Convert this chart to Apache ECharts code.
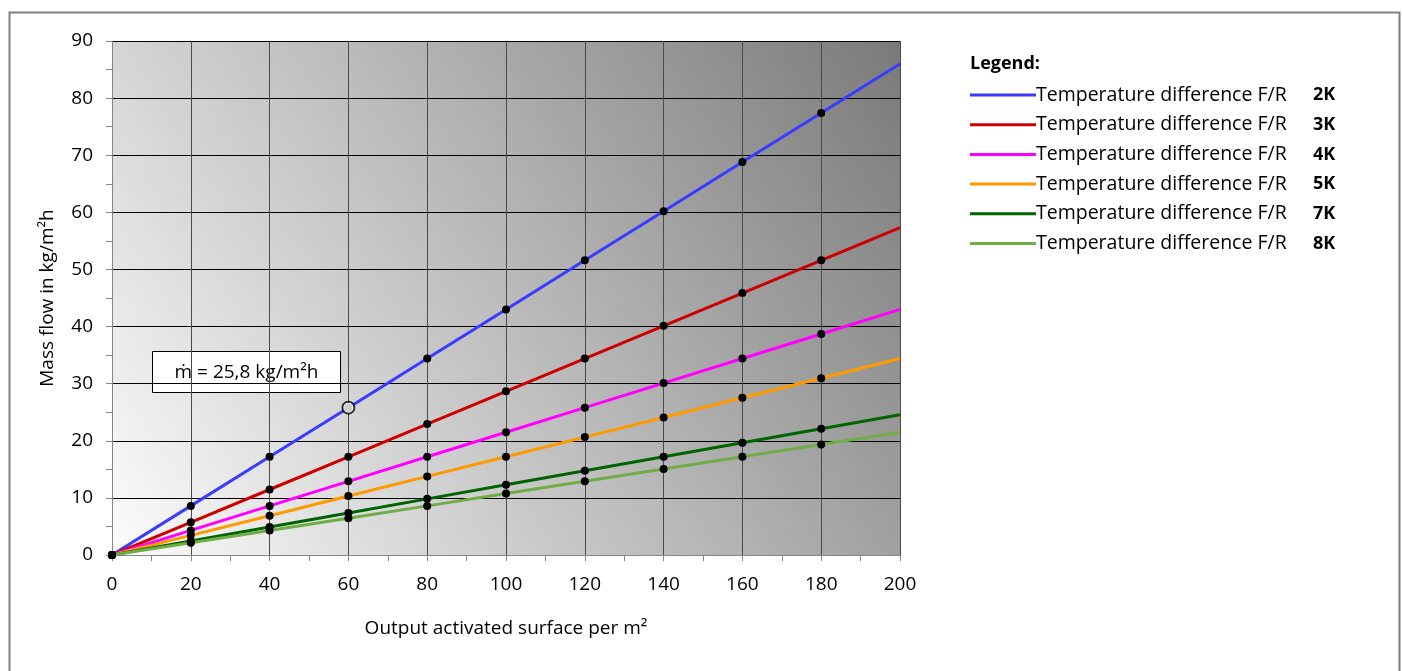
<!DOCTYPE html>
<html>
<head>
<meta charset="utf-8">
<script src="https://cdn.jsdelivr.net/npm/echarts@6/dist/echarts.min.js"></script>
<style>
  html, body { margin: 0; padding: 0; background: #fff; }
  #chart { width: 1402px; height: 671px; }
</style>
</head>
<body>
<div id="chart"></div>
<script>
// output per m2 (x) and mass flow in kg/m2h per temperature difference
const surface = [0, 20, 40, 60, 80, 100, 120, 140, 160, 180, 200];
const flow2K = [0, 8.6, 17.2, 25.8, 34.4, 43.0, 51.6, 60.2, 68.8, 77.4, 86.0];
const flow3K = [0, 5.73, 11.47, 17.2, 22.93, 28.67, 34.4, 40.13, 45.87, 51.6, 57.33];
const flow4K = [0, 4.3, 8.6, 12.9, 17.2, 21.5, 25.8, 30.1, 34.4, 38.7, 43.0];
const flow5K = [0, 3.44, 6.88, 10.32, 13.76, 17.2, 20.64, 24.08, 27.52, 30.96, 34.4];
const flow7K = [0, 2.46, 4.91, 7.37, 9.83, 12.29, 14.74, 17.2, 19.66, 22.11, 24.57];
const flow8K = [0, 2.15, 4.3, 6.45, 8.6, 10.75, 12.9, 15.05, 17.2, 19.35, 21.5];
const seriesNames = ['2K', '3K', '4K', '5K', '7K', '8K'];
const seriesColors = ['#3b3bff', '#cc0000', '#ff00ff', '#ff9900', '#006400', '#70ad47'];
const highlightPoint = [60, 25.8];
const highlightText = 'ṁ = 25,8 kg/m²h';

const font = '"Open Sans", "Liberation Sans", sans-serif';
const chart = echarts.init(document.getElementById('chart'));

function makeLine(name, values, color) {
  return {
    name: name,
    type: 'line',
    data: values.map((v, i) => {
      let item = { value: [surface[i], v] };
      if (i === values.length - 1) item.symbol = 'none';
      return item;
    }),
    symbol: 'circle',
    symbolSize: 8,
    itemStyle: { color: '#000' },
    lineStyle: { color: color, width: 3 },
    color: color,
    animation: false,
    z: 3
  };
}

const allFlows = [flow2K, flow3K, flow4K, flow5K, flow7K, flow8K];
let series = seriesNames.map((n, i) => makeLine(n, allFlows[i], seriesColors[i]));
series.push({
  name: 'point',
  type: 'scatter',
  data: [highlightPoint],
  symbol: 'circle',
  symbolSize: 12,
  itemStyle: { color: '#fff', borderColor: '#000', borderWidth: 2 },
  z: 5,
  animation: false
});

let option = {
  backgroundColor: '#fff',
  textStyle: { fontFamily: font },
  grid: {
    left: 112, right: 502, top: 41, bottom: 116,
    show: true,
    borderWidth: 0,
    backgroundColor: new echarts.graphic.LinearGradient(0, 1, 1, 0, [
      { offset: 0, color: '#fcfcfc' },
      { offset: 1, color: '#7a7a7a' }
    ])
  },
  legend: {
    data: seriesNames.map((n, i) => ({ name: n, itemStyle: { color: seriesColors[i] } })),
    orient: 'vertical',
    left: 965,
    top: 80,
    icon: 'rect',
    itemWidth: 66,
    itemHeight: 3,
    itemGap: 9.7,
    selectedMode: false,
    formatter: function (name) {
      return '{a|Temperature difference F/R}{b|' + name + '}';
    },
    textStyle: {
      padding: [0, 0, 0, -5],
      rich: {
        a: { fontSize: 19.5, color: '#000', fontFamily: font, width: 277, lineHeight: 22 },
        b: { fontSize: 18, color: '#000', fontFamily: font, fontWeight: 'bold', lineHeight: 22 }
      }
    }
  },
  xAxis: {
    type: 'value',
    min: 0, max: 200, interval: 20,
    name: 'Output activated surface per m²',
    nameLocation: 'middle',
    nameGap: 64,
    nameTextStyle: { fontSize: 19, color: '#000' },
    axisLine: { show: true, lineStyle: { color: '#868686', width: 1 } },
    axisTick: { show: true, inside: false, length: 6, lineStyle: { color: '#868686' } },
    minorTick: { show: true, splitNumber: 2, length: 6, lineStyle: { color: '#868686' } },
    axisLabel: { fontSize: 19, color: '#000', margin: 20 },
    splitLine: { show: true, lineStyle: { color: '#4a4a4a', width: 1 } }
  },
  yAxis: {
    type: 'value',
    min: 0, max: 90, interval: 10,
    name: 'Mass flow in kg/m²h',
    nameLocation: 'middle',
    nameGap: 55,
    nameTextStyle: { fontSize: 19, color: '#000' },
    axisLine: { show: true, lineStyle: { color: '#868686', width: 1 } },
    axisTick: { show: true, inside: false, length: 6, lineStyle: { color: '#868686' } },
    minorTick: { show: true, splitNumber: 2, length: 6, lineStyle: { color: '#868686' } },
    axisLabel: { fontSize: 19, color: '#000', margin: 19 },
    splitLine: { show: true, lineStyle: { color: '#000', width: 1 } }
  },
  graphic: [
    {
      type: 'rect',
      shape: { x: 9.5, y: 12.5, width: 1390, height: 700 },
      style: { fill: 'none', stroke: '#7f7f7f', lineWidth: 2 },
      silent: true, z: -10
    },
    {
      type: 'text',
      left: 970, top: 55,
      style: { text: 'Legend:', fontSize: 18, fontWeight: 'bold', fill: '#000', fontFamily: font }
    },
    {
      type: 'group',
      left: 152, top: 351,
      children: [
        {
          type: 'rect',
          shape: { x: 0, y: 0, width: 188, height: 41 },
          style: { fill: '#fff', stroke: '#000', lineWidth: 1 }
        },
        {
          type: 'text',
          x: 94, y: 21,
          style: { text: highlightText, fontSize: 19, fill: '#000', align: 'center', verticalAlign: 'middle', fontFamily: font }
        }
      ],
      z: 10
    }
  ],
  series: series
};

chart.setOption(option);
</script>
</body>
</html>
